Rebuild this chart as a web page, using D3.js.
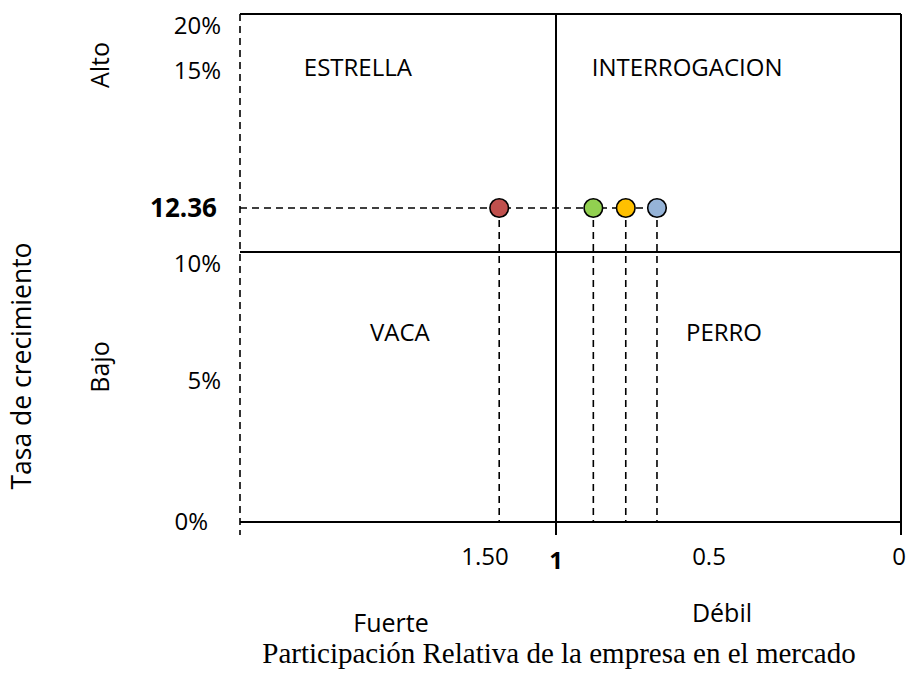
<!DOCTYPE html>
<html>
<head>
<meta charset="utf-8">
<script src="https://cdn.jsdelivr.net/npm/d3@7"></script>
<style>
  body { margin: 0; background: #fff; }
  text { font-family: "Open Sans", "Noto Sans", sans-serif; fill: #000; }
</style>
</head>
<body>
<div id="chart-container"></div>
<script>
// data
const shareValues = [1.40, 0.878, 0.772, 0.67];   // relative market share of each product
const dotColors = ["#C0504D", "#92D050", "#FFC000", "#95B3D7"];
const growthValue = 12.36;                         // market growth rate (%)
const xTicks = [1.5, 1, 0.5, 0];
const xTickLabels = ["1.50", "1", "0.5", "0"];
const yTicks = [0, 5, 10, 15, 20];
const yTickLabels = ["0%", "5%", "10%", "15%", "20%"];
const quadrants = ["ESTRELLA", "INTERROGACION", "VACA", "PERRO"];
const shareSplit = 1, growthSplit = 10;

drawMatrix();

function drawMatrix() {
  const width = 908,
    height = 682

  const left = 240, right = 901, top = 14, bottom = 522, tickOut = 13

  const svg = d3.select("#chart-container")
    .append("svg")
    .attr("width", width)
    .attr("height", height)
    .attr("viewBox", [0, 0, width, height]);

  // hand-drawn axes: piecewise scales through the labelled ticks
  const x = d3.scaleLinear()
    .domain([2.2, 1.5, 1, 0.5, 0])
    .range([left, 485, 556, 709, right]);
  const y = d3.scaleLinear()
    .domain([0, 5, 10, growthValue, 15, 20])
    .range([bottom, 381, 252, 208, 71, top]);

  // left dashed axis
  svg.append("line")
    .attr("x1", left).attr("x2", left)
    .attr("y1", top).attr("y2", bottom + tickOut)
    .attr("stroke", "#000").attr("stroke-width", 1.6)
    .attr("stroke-dasharray", "7,5");

  // frame and quadrant dividers
  const solid = [
    [left, top, right, top],
    [right, top, right, bottom + tickOut],
    [left, bottom, right, bottom],
    [left, y(growthSplit), right, y(growthSplit)],
    [x(shareSplit), top, x(shareSplit), bottom + tickOut]
  ];
  svg.selectAll(".frame")
    .data(solid)
    .join("line")
    .attr("class", "frame")
    .attr("x1", d => d[0]).attr("y1", d => d[1])
    .attr("x2", d => d[2]).attr("y2", d => d[3])
    .attr("stroke", "#000")
    .attr("stroke-width", 2);

  // dashed guide lines
  svg.append("line")
    .attr("x1", left).attr("x2", x(d3.min(shareValues)))
    .attr("y1", y(growthValue)).attr("y2", y(growthValue))
    .attr("stroke", "#000").attr("stroke-width", 1.6)
    .attr("stroke-dasharray", "7,5");

  svg.selectAll(".drop")
    .data(shareValues)
    .join("line")
    .attr("class", "drop")
    .attr("x1", d => x(d)).attr("x2", d => x(d))
    .attr("y1", y(growthValue)).attr("y2", bottom)
    .attr("stroke", "#000").attr("stroke-width", 1.6)
    .attr("stroke-dasharray", "7,5");

  // products
  svg.selectAll(".dot")
    .data(shareValues)
    .join("circle")
    .attr("class", "dot")
    .attr("cx", d => x(d))
    .attr("cy", y(growthValue))
    .attr("r", 9.3)
    .attr("fill", (d, i) => dotColors[i])
    .attr("stroke", "#000")
    .attr("stroke-width", 1.6);

  // quadrant names, placed as a fraction across each quadrant
  const xl = x(shareSplit) - left, xr = right - x(shareSplit);
  const qx = [left + 0.373 * xl, x(shareSplit) + 0.38 * xr, left + 0.506 * xl, x(shareSplit) + 0.487 * xr];
  const qy = [68, 68, 333, 333];
  svg.selectAll(".quad")
    .data(quadrants)
    .join("text")
    .attr("class", "quad")
    .attr("x", (d, i) => qx[i])
    .attr("y", (d, i) => qy[i])
    .attr("dy", "0.35em")
    .attr("text-anchor", "middle")
    .attr("font-size", "24px")
    .text(d => d);

  // y tick labels
  svg.selectAll(".ytick")
    .data(yTicks)
    .join("text")
    .attr("class", "ytick")
    .attr("x", d => d === 0 ? 208 : 221)
    .attr("y", d => y(d) + (d === 10 || d === 20 ? 12 : 0))
    .attr("dy", "0.35em")
    .attr("text-anchor", "end")
    .attr("font-size", "24px")
    .text((d, i) => yTickLabels[i]);

  svg.append("text")
    .attr("x", 217)
    .attr("y", y(growthValue))
    .attr("dy", "0.35em")
    .attr("text-anchor", "end")
    .attr("font-size", "26px")
    .attr("font-weight", "bold")
    .text(growthValue.toFixed(2));

  // x tick labels
  svg.selectAll(".xtick")
    .data(xTicks)
    .join("text")
    .attr("class", "xtick")
    .attr("x", d => x(d) - (d === 0 ? 2 : 0))
    .attr("y", d => d === 1 ? 561 : 557)
    .attr("dy", "0.35em")
    .attr("text-anchor", "middle")
    .attr("font-size", "24px")
    .attr("font-weight", d => d === 1 ? "bold" : "normal")
    .text((d, i) => xTickLabels[i]);

  // axis side labels
  svg.append("text")
    .attr("transform", "translate(100,65) rotate(-90)")
    .attr("dy", "0.35em")
    .attr("text-anchor", "middle")
    .attr("font-size", "25px")
    .text("Alto");
  svg.append("text")
    .attr("transform", "translate(100,367) rotate(-90)")
    .attr("dy", "0.35em")
    .attr("text-anchor", "middle")
    .attr("font-size", "25px")
    .text("Bajo");
  svg.append("text")
    .attr("transform", "translate(22,366) rotate(-90)")
    .attr("dy", "0.35em")
    .attr("text-anchor", "middle")
    .attr("font-size", "26.5px")
    .text("Tasa de crecimiento");

  svg.append("text")
    .attr("x", 391).attr("y", 623)
    .attr("dy", "0.35em")
    .attr("text-anchor", "middle")
    .attr("font-size", "25px")
    .text("Fuerte");
  svg.append("text")
    .attr("x", 722).attr("y", 613)
    .attr("dy", "0.35em")
    .attr("text-anchor", "middle")
    .attr("font-size", "25px")
    .text("Débil");

  svg.append("text")
    .attr("x", 559).attr("y", 653)
    .attr("dy", "0.35em")
    .attr("text-anchor", "middle")
    .attr("font-size", "29px")
    .style("font-family", "'Liberation Serif', 'Times New Roman', serif")
    .text("Participación Relativa de la empresa en el mercado");
}
</script>
</body>
</html>
